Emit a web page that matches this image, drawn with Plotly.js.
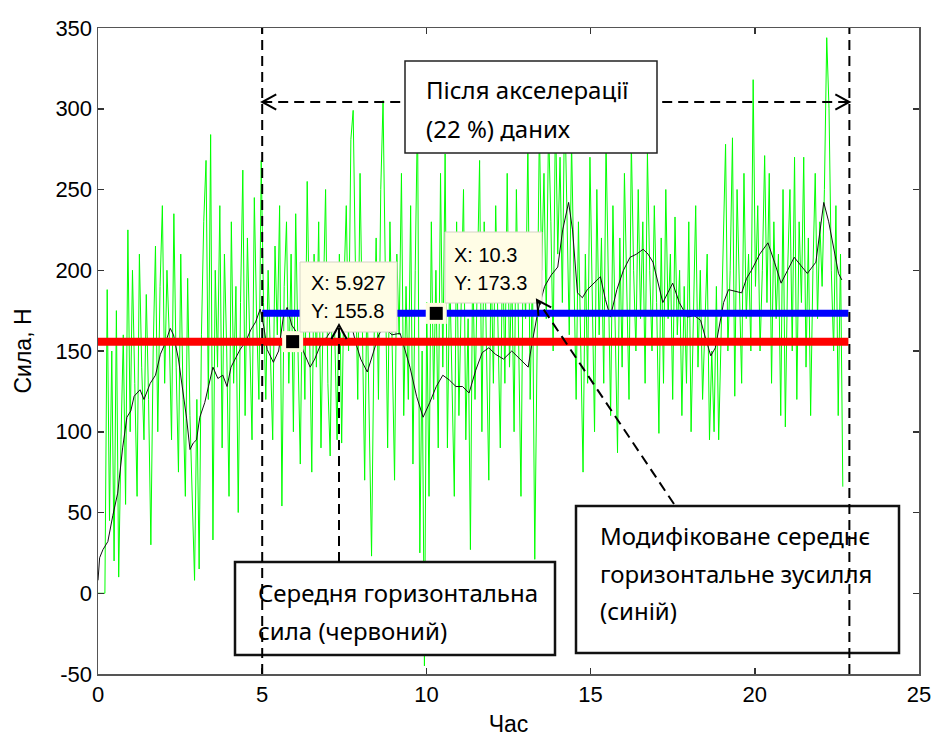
<!DOCTYPE html>
<html><head><meta charset="utf-8">
<script src="https://cdn.plot.ly/plotly-3.0.1.min.js"></script>
<style>html,body{margin:0;padding:0;background:#fff}#chart{width:935px;height:738px}</style>
</head><body><div id="chart"></div><script>
// ---- data ----
const greenStart = 0, greenStep = 0.07;
const greenForce = [
0,0,0,0,188,45,150,20,175,10,95,160,55,225,100,
200,130,60,210,140,95,185,120,30,150,215,100,190,240,130,
200,160,95,235,140,75,210,120,60,195,110,60,8,120,15,
160,230,268,120,284,33,200,140,240,90,210,150,60,230,130,
190,50,180,262,110,220,150,95,245,170,120,268,180,120,200,
140,95,215,160,240,54,190,230,130,210,100,235,150,80,200,
120,255,170,75,210,140,230,90,180,250,130,85,200,160,95,
210,93,190,240,150,281,299,200,120,260,160,70,190,100,23,
150,220,120,250,305,180,90,230,140,70,210,160,260,110,190,
120,240,80,200,300,25,150,-45,180,60,230,120,200,90,260,
140,272,90,200,130,60,230,110,180,250,95,170,27,210,120,
190,268,100,230,150,70,210,130,240,160,90,220,130,260,140,
200,100,250,150,60,220,170,280,120,200,21,150,290,200,260,
170,290,230,150,300,210,270,180,310,240,160,280,200,120,230,
150,75,210,130,270,180,100,250,160,220,130,280,190,110,240,
170,87,220,140,260,190,120,280,200,150,250,170,230,130,273,
200,150,240,180,99,220,130,250,170,210,120,233,160,200,110,
190,130,230,100,180,240,140,200,120,170,210,95,150,100,190,
95,160,230,278,150,200,282,122,250,180,130,260,170,210,150,
318,190,240,150,200,271,180,260,130,230,170,210,110,250,103,
200,250,150,270,120,230,180,270,140,220,110,200,260,170,230,
190,250,344,300,200,150,240,110,210,66];
const blackTime = [0,0.05,0.15,0.3,0.45,0.6,0.75,0.88,1.0,1.1,1.28,1.4,1.59,1.75,1.9,2.05,2.2,2.3,2.45,2.56,2.7,2.8,2.9,3.0,3.1,3.25,3.4,3.5,3.65,3.8,3.93,4.05,4.2,4.33,4.5,4.65,4.8,4.94,5.05,5.15,5.34,5.5,5.65,5.76,5.9,6.07,6.25,6.46,6.6,6.8,6.98,7.2,7.45,7.68,7.85,8.0,8.2,8.4,8.55,8.7,8.95,9.2,9.35,9.5,9.7,9.9,10.1,10.3,10.5,10.7,10.9,11.1,11.3,11.5,11.7,11.9,12.1,12.35,12.6,12.85,13.1,13.2,13.4,13.6,13.8,14.0,14.15,14.33,14.45,14.6,14.75,14.9,15.1,15.3,15.45,15.6,15.8,16.0,16.2,16.4,16.6,16.75,16.9,17.05,17.2,17.35,17.5,17.7,17.95,18.15,18.35,18.5,18.66,18.8,18.9,19.05,19.2,19.4,19.6,19.75,19.9,20.15,20.4,20.6,20.8,21.0,21.2,21.4,21.6,21.86,22.0,22.1,22.25,22.4,22.55,22.65];
const blackForce = [8,22,27,32,48,62,90,109,113,122,126,120,130,135,148,155,164,160,145,130,108,89,93,95,109,118,132,140,133,135,128,140,146,151,156,163,168,176,165,151,143,150,172,177,166,161,150,140,145,155,159,166,165,169,155,145,137,150,160,165,160,161,150,140,122,109,118,128,135,132,128,128,124,138,149,152,148,145,150,145,140,153,175,190,197,202,225,242,225,186,183,188,192,196,182,171,188,200,208,210,213,210,205,192,180,186,192,180,171,172,169,158,147,152,163,180,188,187,186,195,200,210,217,205,192,200,208,203,198,205,225,242,230,213,198,194];
const meanAllTime = [0, 22.85], meanAllForce = [155.8, 155.8];
const meanModTime = [5, 22.85], meanModForce = [173.3, 173.3];
const tipTime = [5.927, 10.3], tipForce = [155.8, 173.3];
const windowBounds = [5, 22.88];
const xTickVals = [0,5,10,15,20,25];
const yTickVals = [-50,0,50,100,150,200,250,300,350];

const greenTime = greenForce.map((_, i) => +(greenStart + i * greenStep).toFixed(3));

// ---- geometry helpers (pixel -> data) for annotation furniture ----
const L = 98, R = 16, T = 28, B = 64, W = 935, H = 738;
const pw = W - L - R, ph = H - T - B;
const X = px => (px - L) * 25 / pw;
const Y = py => 350 - (py - T) * 400 / ph;
const pxX = x => L + x * pw / 25;
const pxY = y => T + (350 - y) * ph / 400;

function chevron(tx, ty, dx, dy) { // tip in data, dir in px
  const n = Math.hypot(dx, dy); dx /= n; dy /= n;
  const tpx = pxX(tx), tpy = pxY(ty), len = 16, a = 0.5;
  const pts = [a, -a].map(s => {
    const c = Math.cos(s), si = Math.sin(s);
    const bx = -(dx * c - dy * si), by = -(dx * si + dy * c);
    return [tpx + bx * len, tpy + by * len];
  });
  return `M${X(pts[0][0])},${Y(pts[0][1])} L${tx},${ty} L${X(pts[1][0])},${Y(pts[1][1])}`;
}

const dashLine = {color: '#000', width: 2, dash: '10px,6px'};
const yArrow = Y(102);
const shapes = [
  {type:'line', x0: windowBounds[0], x1: windowBounds[1], y0: yArrow, y1: yArrow, line: dashLine},
  {type:'rect', x0: X(405), x1: X(657), y0: Y(61), y1: Y(153), fillcolor:'#fff', line:{color:'#222', width:1.5}},
  {type:'rect', x0: X(235), x1: X(555), y0: Y(562), y1: Y(655), fillcolor:'#fff', line:{color:'#111', width:2.5}},
  {type:'rect', x0: X(576), x1: X(899), y0: Y(506), y1: Y(653), fillcolor:'#fff', line:{color:'#111', width:2.5}},
  {type:'rect', x0: X(300), x1: X(397), y0: Y(262), y1: Y(332), fillcolor:'#FFFDE6', line:{color:'#d4d4c4', width:1}},
  {type:'rect', x0: X(445), x1: X(542), y0: Y(232), y1: Y(303), fillcolor:'#FFFDE6', line:{color:'#d4d4c4', width:1}},
  {type:'line', x0: windowBounds[0], x1: windowBounds[0], yref:'paper', y0: 0, y1: 1, line: dashLine},
  {type:'line', x0: windowBounds[1], x1: windowBounds[1], yref:'paper', y0: 0, y1: 1, line: dashLine},
  {type:'line', x0: X(339), x1: X(339), y0: Y(562), y1: Y(326), line: dashLine},
  {type:'line', x0: X(674), x1: X(538), y0: Y(504), y1: Y(301), line: dashLine},
  {type:'path', path: chevron(windowBounds[0], yArrow, -1, 0), line:{color:'#000', width:2}},
  {type:'path', path: chevron(windowBounds[1], yArrow, 1, 0), line:{color:'#000', width:2}},
  {type:'path', path: chevron(X(339), Y(325), 0, -1), line:{color:'#000', width:2}},
  {type:'path', path: chevron(X(537), Y(300), 537-674, 300-504), line:{color:'#000', width:2}}
];

const boxFont = {family:'Noto Sans, Open Sans, sans-serif', size:24, color:'#000'};
const tipFont = {family:'Arial, Liberation Sans, sans-serif', size:20, color:'#000'};
const txt = (s, px, py, f) => ({text:s, x:X(px), y:Y(py), xref:'x', yref:'y', xanchor:'left', yanchor:'middle', showarrow:false, font:f});
const annotations = [
  txt('Після акселерації', 424, 89, boxFont),
  txt('(22 %) даних', 424, 128, boxFont),
  txt('Середня горизонтальна', 256, 592, boxFont),
  txt('сила (червоний)', 256, 630, boxFont),
  txt('Модифіковане середнє', 598, 535, boxFont),
  txt('горизонтальне зусилля', 598, 573, boxFont),
  txt('(синій)', 598, 610, boxFont),
  txt('X: ' + tipTime[0], 309, 283, tipFont),
  txt('Y: ' + tipForce[0], 309, 311, tipFont),
  txt('X: ' + tipTime[1], 452, 255, tipFont),
  txt('Y: ' + tipForce[1], 452, 283, tipFont)
];

const traces = [
  {x: greenTime, y: greenForce, mode:'lines', line:{color:'#00ff00', width:1}, hoverinfo:'skip'},
  {x: blackTime, y: blackForce, mode:'lines', line:{color:'#111', width:1}, hoverinfo:'skip'},
  {x: meanAllTime, y: meanAllForce, mode:'lines', line:{color:'#ff0000', width:8}, hoverinfo:'skip'},
  {x: meanModTime, y: meanModForce, mode:'lines', line:{color:'#0000ff', width:7}, hoverinfo:'skip'},
  {x: tipTime, y: tipForce, mode:'markers', marker:{symbol:'square', size:21, color:'#FFFDE0'}, hoverinfo:'skip'},
  {x: tipTime, y: tipForce, mode:'markers', marker:{symbol:'square', size:13, color:'#000'}, hoverinfo:'skip'}
];

const axisCommon = {
  showgrid:false, zeroline:false, showline:true, linecolor:'#555', linewidth:1.5,
  mirror:'ticks', ticks:'inside', ticklen:6, tickcolor:'#333', tickwidth:1.5,
  tickfont:{family:'Arial, Liberation Sans, sans-serif', size:22, color:'#000'}
};
const layout = {
  width: W, height: H, margin:{l:L, r:R, t:T, b:B}, showlegend:false,
  paper_bgcolor:'#fff', plot_bgcolor:'#fff',
  xaxis: Object.assign({}, axisCommon, {range:[0,25], tickvals:xTickVals, ticktext:xTickVals.map(String),
    title:{text:'Час', font:{family:'Arial, Liberation Sans, sans-serif', size:23, color:'#000'}, standoff:10}}),
  yaxis: Object.assign({}, axisCommon, {range:[-50,350], tickvals:yTickVals, ticktext:yTickVals.map(String),
    title:{text:'Сила, Н', font:{family:'Arial, Liberation Sans, sans-serif', size:23, color:'#000'}, standoff:17}}),
  shapes, annotations
};
Plotly.newPlot('chart', traces, layout, {displayModeBar:false, staticPlot:true});
</script></body></html>
